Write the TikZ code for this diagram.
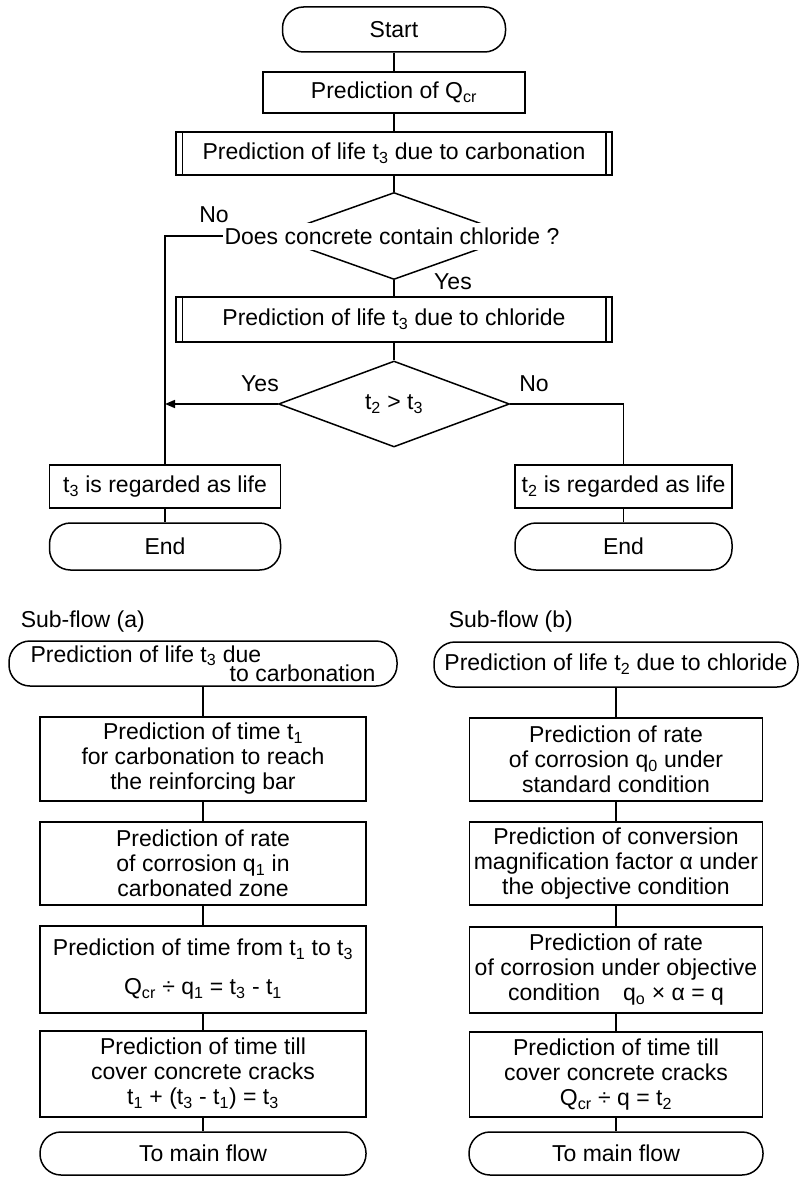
\documentclass[tikz,border=0pt]{standalone}
\usepackage{fontspec}
\setmainfont{Liberation Sans}
\usepackage{tikz}
\usetikzlibrary{shapes.geometric,arrows.meta}
\newcommand{\lowsub}[1]{\textsubscript{#1}}

\begin{document}
\begin{tikzpicture}[x=1pt,y=-1pt,line width=1.5pt,font=\fontsize{23}{25}\selectfont]
    \tikzstyle{term}=[draw,rounded corners=21pt,inner sep=2pt,align=center]
    \tikzstyle{box}=[draw,inner sep=2pt,align=center]
    \tikzstyle{dia}=[draw,diamond,inner sep=0pt]
    \tikzstyle{lbl}=[inner sep=0pt]
    \tikzstyle{arr}=[-{Triangle[length=10pt,width=8pt]}]

\useasboundingbox (0,0) rectangle (799,1177);

% main flow
\node[term, minimum width=223, minimum height=45] (start) at (394,29.5) {Start};
\node[box, minimum width=262, minimum height=41] (qcr) at (394,92.5) {Prediction of Q\lowsub{cr}};
\node[box, minimum width=436, minimum height=43] (carb) at (394,153.5) {Prediction of life t\lowsub{3} due to carbonation};
\node[dia, minimum width=244, minimum height=87] (d1) at (394,236) {};
\node[fill=white, inner sep=1pt, minimum height=27] (d1t) at (392,236) {Does concrete contain chloride ?};
\node[box, minimum width=436, minimum height=45] (chl) at (394,319.5) {Prediction of life t\lowsub{3} due to chloride};
\node[dia, minimum width=231, minimum height=86] (d2) at (394,404) {t\lowsub{2} > t\lowsub{3}};
\node[box, minimum width=231, minimum height=43] (life3) at (165,486.5) {t\lowsub{3} is regarded as life};
\node[box, minimum width=217, minimum height=43] (life2) at (623.5,486.5) {t\lowsub{2} is regarded as life};
\node[term, minimum width=231, minimum height=47] (end3) at (165,546.5) {End};
\node[term, minimum width=217, minimum height=47] (end2) at (623.5,546.5) {End};

\node[lbl] (no1) at (214,215) {No};
\node[lbl] (yes1) at (453,282) {Yes};
\node[lbl] (yes2) at (260,384) {Yes};
\node[lbl] (no2) at (534,384) {No};

% side bars of the predefined boxes
\foreach \n in {carb,chl} {
  \draw ([xshift=7]\n.north west) -- ([xshift=7]\n.south west);
  \draw ([xshift=-7]\n.north east) -- ([xshift=-7]\n.south east);
}

\draw (start) -- (qcr);
\draw (qcr) -- (carb);
\draw (carb) -- (d1.north);
\draw (d1.south) -- (chl);
\draw (chl) -- (d2.north);
\draw (d1t.west) -| (life3.north);
\draw[arr] (d2.west) -- (d2.west -| life3.north);
\draw (d2.east) -| (life2.north);
\draw (life3) -- (end3);
\draw (life2) -- (end2);

% sub-flow (a)
\node[lbl, anchor=west] (suba) at (20,622) {Sub-flow (a)};
\node[term, minimum width=388, minimum height=45] (a0) at (203,663.5)
  {\parbox{345pt}{\lineskiplimit=-\maxdimen\baselineskip=19pt Prediction of life t\lowsub{3} due\\\hspace*{\fill}to carbonation}};
\node[box, minimum width=326, minimum height=84] (a1) at (203,759) {Prediction of time t\lowsub{1}\\for carbonation to reach\\the reinforcing bar};
\node[box, minimum width=326, minimum height=83] (a2) at (203,863.5) {Prediction of rate\\of corrosion q\lowsub{1} in\\carbonated zone};
\node[box, minimum width=326, minimum height=87] (a3) at (203,969.5) {Prediction of time from t\lowsub{1} to t\lowsub{3}\\[14pt]Q\lowsub{cr} ÷ q\lowsub{1} = t\lowsub{3} - t\lowsub{1}};
\node[box, minimum width=326, minimum height=86] (a4) at (203,1074) {Prediction of time till\\cover concrete cracks\\t\lowsub{1} + (t\lowsub{3} - t\lowsub{1}) = t\lowsub{3}};
\node[term, minimum width=326, minimum height=43] (a5) at (203,1153.5) {To main flow};

% sub-flow (b)
\node[lbl, anchor=west] (subb) at (448,622) {Sub-flow (b)};
\node[term, minimum width=364, minimum height=45] (b0) at (616,664.5) {Prediction of life t\lowsub{2} due to chloride};
\node[box, minimum width=293, minimum height=83] (b1) at (616,759.5) {Prediction of rate\\of corrosion q\lowsub{0} under\\standard condition};
\node[box, minimum width=293, minimum height=83] (b2) at (616,863.5) {Prediction of conversion\\magnification factor α under\\the objective condition};
\node[box, minimum width=293, minimum height=86] (b3) at (616,970) {Prediction of rate\\of corrosion under objective\\condition\quad q\lowsub{o} × α = q};
\node[box, minimum width=293, minimum height=85] (b4) at (616,1074.5) {Prediction of time till\\cover concrete cracks\\Q\lowsub{cr} ÷ q = t\lowsub{2}};
\node[term, minimum width=294, minimum height=43] (b5) at (616,1153.5) {To main flow};

\foreach \p/\q in {a0/a1,a1/a2,a2/a3,a3/a4,a4/a5,b0/b1,b1/b2,b2/b3,b3/b4,b4/b5}
  \draw (\p) -- (\q);
\end{tikzpicture}
\end{document}
